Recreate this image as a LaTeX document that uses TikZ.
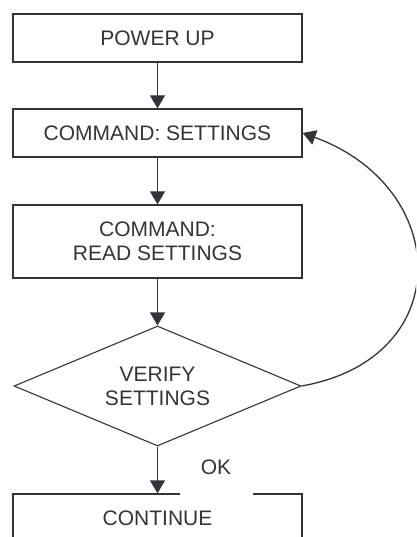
\documentclass[tikz,border=0pt]{standalone}
\usepackage{fontspec}
\setmainfont{Liberation Sans}
\usepackage{tikz}
\usetikzlibrary{positioning}
\usetikzlibrary{shapes.geometric}
\usetikzlibrary{arrows.meta}
\usepackage{xcolor}
\definecolor{flowgray}{RGB}{52,52,56}

\begin{document}
\begin{tikzpicture}[x=1pt,y=1pt,
        every node/.style={text=flowgray, font=\fontsize{21}{24}\selectfont, align=center},
        box/.style={draw=flowgray, line width=1.3pt, minimum width=289pt, inner sep=0pt},
        decision/.style={diamond, draw=flowgray, line width=1.1pt, minimum width=287pt, minimum height=120pt, inner sep=0pt, aspect=2.4},
        flow/.style={draw=flowgray, line width=1.3pt, -{Triangle[width=15pt,length=13pt]}}]
        \useasboundingbox (0,0) rectangle (416,-537);
        \clip (0,0) rectangle (416,-537);
        \foreach \name/\y/\h/\txt in {power/38/48/{POWER UP}, set/133/48/{COMMAND: SETTINGS}, read/241.5/73/{COMMAND:\\READ SETTINGS}, cont/518/48/{CONTINUE}}
        {
            \node[box, minimum height=\h pt] (\name) at (157.5,-\y) {\txt};
        }
        \node[decision] (verify) at (157.5,-386) {VERIFY\\SETTINGS};
        \node[fill=white, minimum width=73pt, minimum height=58pt, inner sep=0pt] (ok) at (216,-467) {OK};
        \foreach \a/\b in {power/set, set/read, read/verify, verify/cont}
            \draw[flow] (\a) -- (\b);
        \draw[flow] (verify.east) to[out=10, in=-20, looseness=1.6] (set.east);
\end{tikzpicture}
\end{document}
